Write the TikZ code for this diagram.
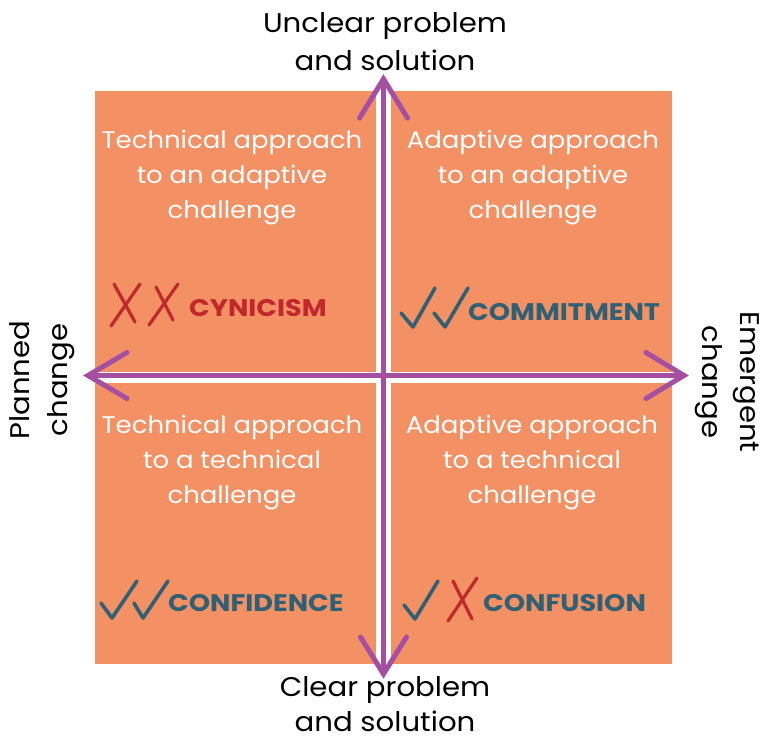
\documentclass[tikz,border=0pt]{standalone}
\usepackage{fontspec}
\setmainfont{Poppins}
\newfontfamily\widefont{Poppins}[FakeStretch=1.08]
\newfontfamily\verdictfont{Poppins}[FakeStretch=1.13]
\usetikzlibrary{calc}
\definecolor{quadorange}{HTML}{F39165}
\definecolor{axispurple}{HTML}{A54FA1}
\definecolor{goodteal}{HTML}{2F6073}
\definecolor{badred}{HTML}{C1272D}
\begin{document}
\begin{tikzpicture}[x=1pt,y=-1pt,
  quad/.style={fill=quadorange},
  quadtext/.style={text=white,align=center,inner sep=0pt,font=\widefont\fontsize{24}{35}\selectfont},
  axistext/.style={text=black,align=center,inner sep=0pt,font=\widefont\fontsize{27}{38}\selectfont},
  verdict/.style={inner sep=0pt,anchor=west,font=\verdictfont\fontsize{24}{28}\selectfont\bfseries},
  axisline/.style={draw=axispurple,line width=5pt},
  axishead/.style={draw=axispurple,line width=5pt,line cap=round,line join=miter},
  tick/.style={draw=goodteal,line width=3.6pt,line cap=round,line join=round},
  cross/.style={draw=badred,line width=3.2pt,line cap=round}]
\useasboundingbox (0,0) rectangle (771,737);
\fill[white] (0,0) rectangle (771,737);
% quadrants
\fill[quad] (95,91) rectangle (376,372);
\fill[quad] (391,91) rectangle (672,372);
\fill[quad] (95,383) rectangle (376,664);
\fill[quad] (391,383) rectangle (672,664);
% axes
\coordinate (N) at (383.5,79);
\coordinate (S) at (383.5,674);
\coordinate (W) at (88,375.5);
\coordinate (E) at (684,375.5);
\draw[axisline] (N) -- (S);
\draw[axisline] (W) -- (E);
\draw[axishead] ($(N)+(-24,39)$) -- (N) -- ($(N)+(24,39)$);
\draw[axishead] ($(S)+(-23,-37)$) -- (S) -- ($(S)+(23,-37)$);
\draw[axishead] ($(W)+(39,-23)$) -- (W) -- ($(W)+(39,23)$);
\draw[axishead] ($(E)+(-38,-23)$) -- (E) -- ($(E)+(-38,23)$);
% axis labels
\node[axistext] (top) at (385,42) {Unclear problem\\and solution};
\node[axistext,font=\widefont\fontsize{27}{35}\selectfont] (bottom) at (385,704) {Clear problem\\and solution};
\node[axistext,rotate=90] (left) at (42,380) {Planned\\change};
\node[axistext,rotate=-90] (right) at (727,382) {Emergent\\change};
% quadrant texts
\node[quadtext] (tl) at (232,178) {Technical approach\\to an adaptive\\challenge};
\node[quadtext] (tr) at (533,178) {Adaptive approach\\to an adaptive\\challenge};
\node[quadtext] (bl) at (232,463) {Technical approach\\to a technical\\challenge};
\node[quadtext] (br) at (532,463) {Adaptive approach\\to a technical\\challenge};
% verdicts
\node[verdict,text=badred] (cyn) at (189,308) {CYNICISM};
\node[verdict,text=goodteal] (com) at (468,312) {COMMITMENT};
\node[verdict,text=goodteal] (cnf) at (168,603) {CONFIDENCE};
\node[verdict,text=goodteal] (cfs) at (483,603) {CONFUSION};
% marks
\draw[cross] (114,284) -- (135,322);
\draw[cross] (140,284) -- (111,326);
\draw[cross] (156,287) -- (173,320);
\draw[cross] (178,284) -- (149,325);
\draw[tick] (401,313) -- (413,327) -- (435,288);
\draw[tick] (434,313) -- (445,327) -- (468,288);
\draw[tick] (101,603) -- (112,618) -- (137,581);
\draw[tick] (134,603) -- (143,618) -- (168,581);
\draw[tick] (404,605) -- (415,619) -- (438,581);
\draw[cross] (453,581) -- (472,619);
\draw[cross] (477,578) -- (448,621);
\end{tikzpicture}
\end{document}
